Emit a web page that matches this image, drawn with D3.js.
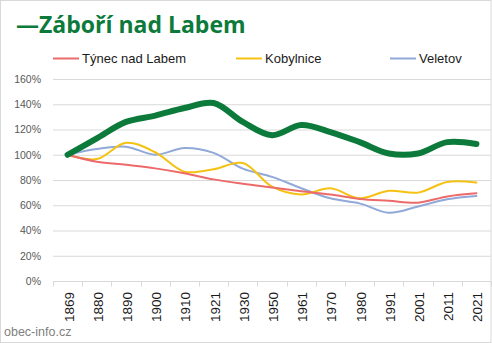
<!DOCTYPE html>
<html>
<head>
<meta charset="utf-8">
<script src="https://cdn.jsdelivr.net/npm/d3@7"></script>
<style>
  html, body { margin: 0; padding: 0; background: #fff; }
  svg { display: block; }
</style>
</head>
<body>
<svg id="chart" width="492" height="343"></svg>
<script>
// Population index relative to 1869 (%)
const years = ["1869","1880","1890","1900","1910","1921","1930","1950","1961","1970","1980","1991","2001","2011","2021"];
const zabori   = [100, 113, 126, 131, 137, 141, 126, 115.5, 123.5, 118, 110, 101, 101, 110, 108.5];
const tynec    = [100, 94.5, 92, 89.2, 85.3, 80.5, 77, 74, 71, 68.5, 65, 63.5, 62, 67, 69.5];
const kobylnice= [100, 96.6, 109.5, 102, 86.6, 88.5, 93.5, 74.7, 68.5, 73.4, 65.5, 71.5, 70, 78.5, 78];
const veletov  = [100, 104.5, 106.4, 100, 105.4, 101.5, 89, 82.5, 73.5, 65.5, 61.5, 54, 59, 64.7, 67.3];
const yTicks = [0, 20, 40, 60, 80, 100, 120, 140, 160];

const title = "Záboří nad Labem";
const legendSeries = [
  { name: "Týnec nad Labem", values: tynec, color: "#ED6A6A", width: 2 },
  { name: "Kobylnice", values: kobylnice, color: "#F5C214", width: 2 },
  { name: "Veletov", values: veletov, color: "#90A9D8", width: 2 }
];
const mainSeries = { name: title, values: zabori, color: "#0C7A3A", width: 6 };

const svg = d3.select("#chart");
const W = 492, H = 343;

// chart frame
svg.append("rect").attr("x", 0.5).attr("y", 0.5).attr("width", W - 1.5).attr("height", H - 1)
  .attr("fill", "#fff").attr("stroke", "#d9d9d9");

const plot = { left: 53, right: 491, top: 79, bottom: 281 };

const x = d3.scalePoint().domain(years).range([plot.left, plot.right]).padding(0.5);
const xBand = d3.scaleBand().domain(years).range([plot.left, plot.right]);
const y = d3.scaleLinear().domain([0, 160]).range([plot.bottom, plot.top]);

// horizontal gridlines
svg.append("g").selectAll("line").data(yTicks.filter(d => d > 0)).join("line")
  .attr("x1", plot.left).attr("x2", plot.right)
  .attr("y1", d => y(d) + 0.5).attr("y2", d => y(d) + 0.5)
  .attr("stroke", "#d9d9d9").attr("stroke-width", 1);

// y axis labels
const yAxis = d3.axisLeft(y).tickValues(yTicks).tickFormat(d => d + "%").tickSize(0).tickPadding(0);
const yg = svg.append("g").attr("transform", `translate(${plot.left - 12},0)`).call(yAxis);
yg.select(".domain").remove();
yg.selectAll("text").attr("font-family", "Liberation Sans, Arial, sans-serif")
  .attr("font-size", 10.5).attr("fill", "#595959");

// x axis with category boundary ticks
const xg = svg.append("g").attr("transform", `translate(0,${plot.bottom + 0.5})`);
xg.append("line").attr("x1", plot.left).attr("x2", plot.right).attr("stroke", "#d9d9d9");
const bounds = years.map(d => xBand(d)).concat([plot.right]);
xg.selectAll("line.tk").data(bounds).join("line").attr("class", "tk")
  .attr("x1", d => Math.round(d) + 0.5).attr("x2", d => Math.round(d) + 0.5)
  .attr("y1", 0).attr("y2", 5).attr("stroke", "#d9d9d9");
xg.selectAll("text").data(years).join("text")
  .attr("transform", d => `translate(${x(d) + 6},${10.5}) rotate(-90)`)
  .attr("text-anchor", "end")
  .attr("font-family", "Liberation Sans, Arial, sans-serif")
  .attr("font-size", 13.5).attr("fill", "#1a1a1a")
  .text(d => d);

// lines
const line = d3.line().x((d, i) => x(years[i])).y(d => y(d)).curve(d3.curveCatmullRom.alpha(0.5));
const all = legendSeries.slice().reverse().concat([mainSeries]);
svg.append("g").selectAll("path").data(all).join("path")
  .attr("d", s => line(s.values))
  .attr("fill", "none").attr("stroke", s => s.color)
  .attr("stroke-width", s => s.width)
  .attr("stroke-linecap", "round").attr("stroke-linejoin", "round");

// title with its legend key
svg.append("text").attr("x", 16).attr("y", 33)
  .attr("font-family", "Open Sans, Liberation Sans, sans-serif")
  .attr("font-weight", "bold").attr("font-size", 23).attr("fill", mainSeries.color)
  .text("—" + title);

// legend
const legendX = [53, 236, 390];
const lg = svg.append("g").selectAll("g").data(legendSeries).join("g")
  .attr("transform", (d, i) => `translate(${legendX[i]},58)`);
lg.append("line").attr("x1", 0).attr("x2", 26).attr("y1", 0.5).attr("y2", 0.5)
  .attr("stroke", d => d.color).attr("stroke-width", 2);
lg.append("text").attr("x", 29).attr("y", 5)
  .attr("font-family", "Liberation Sans, Arial, sans-serif")
  .attr("font-size", 13).attr("fill", "#1a1a1a")
  .text(d => d.name);

// source
svg.append("text").attr("x", 4).attr("y", 336)
  .attr("font-family", "Liberation Sans, Arial, sans-serif")
  .attr("font-size", 12.5).attr("fill", "#7f7f7f")
  .text("obec-info.cz");
</script>
</body>
</html>
